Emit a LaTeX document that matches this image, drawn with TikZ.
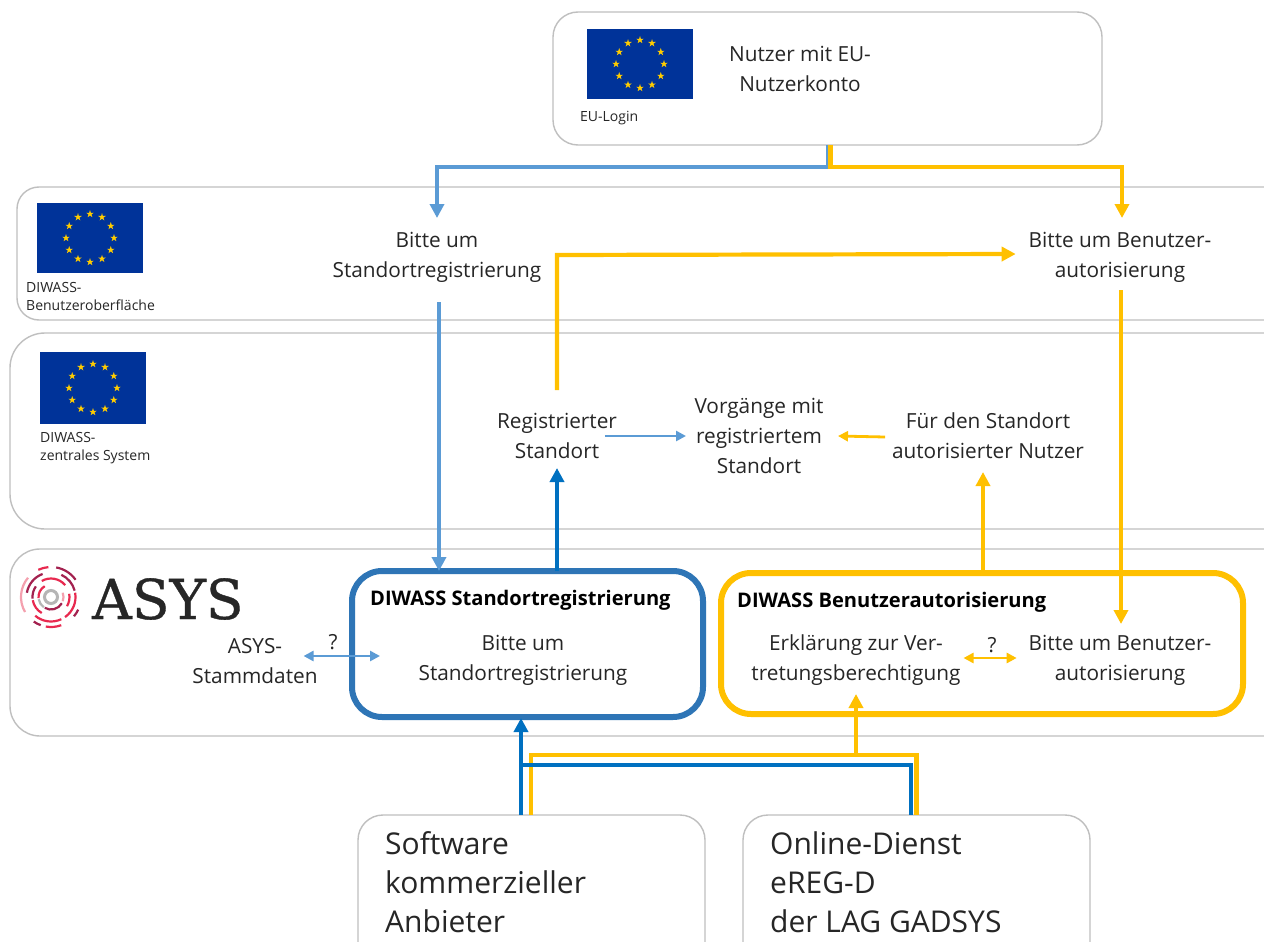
\documentclass[tikz,border=0pt]{standalone}
\usepackage{fontspec}
\setmainfont{Open Sans}
\newfontfamily\slabfont[FakeBold=0.7]{DejaVu Serif}
\usetikzlibrary{arrows.meta,calc}
\definecolor{lightblue}{HTML}{5B9BD5}
\definecolor{deepblue}{HTML}{0070C0}
\definecolor{boxblue}{HTML}{2E75B6}
\definecolor{gold}{HTML}{FFC000}
\definecolor{panelgrey}{HTML}{BFBFBF}
\definecolor{flagblue}{HTML}{003399}
\definecolor{stargold}{HTML}{FFCC00}
\definecolor{inktext}{HTML}{262626}
\definecolor{logored}{HTML}{E8294F}
\definecolor{logodark}{HTML}{A3214F}
\definecolor{logopink}{HTML}{F4A0AE}
\definecolor{logogrey}{HTML}{B5B5B5}
\tikzset{
  x=1pt,y=-1pt,
  panel/.style={draw=panelgrey,line width=1.4pt,fill=white,rounded corners=#1,inner sep=0pt,outer sep=0pt},
  panel/.default=25pt,
  mainbox/.style={draw=#1,line width=6pt,rounded corners=30pt,inner sep=0pt,outer sep=0pt},
  txt/.style={font=\fontsize{20.8}{30}\selectfont,text=inktext,align=center,inner sep=0pt,outer sep=0pt},
  boldtxt/.style={font=\fontsize{20.1}{24}\selectfont\bfseries,text=black,anchor=west,inner sep=0pt},
  small/.style={font=\fontsize{14}{18.5}\selectfont,text=inktext,align=left,anchor=north west,inner sep=0pt},
  big/.style={font=\fontsize{30}{39}\selectfont,text=inktext,align=left,anchor=north west,inner sep=0pt},
  lb/.style={draw=lightblue,line width=4pt},
  lbthin/.style={draw=lightblue,line width=2.6pt},
  gd/.style={draw=gold,line width=4.2pt},
  gdthin/.style={draw=gold,line width=2.8pt},
  db/.style={draw=deepblue,line width=4.2pt},
  tip/.style={-{Triangle[width=14pt,length=14pt]}},
  smalltip/.style={-{Triangle[width=10pt,length=10pt]}},
  bothtip/.style={{Triangle[width=10pt,length=10pt]}-{Triangle[width=10pt,length=10pt]}},
  flagarea/.style={fill=flagblue,draw=none},
  eustar/.style={fill=stargold,draw=none},
}
\newcommand{\euflag}[5]{% name, cx, cy, w, h
  \node[flagarea,minimum width=#4,minimum height=#5,inner sep=0pt] (#1) at (#2,#3) {};
  \foreach \a in {0,30,...,330}{
    \fill[eustar,shift={(#2,#3)},shift={(\a:24)}]
      (-90:4) -- (54:4) -- (198:4) -- (-18:4) -- (126:4) -- cycle;
  }
}
\newcommand{\ringarc}[4]{% colour, radius, start, end
  \draw[draw=#1,line width=2.2pt,shift={(51,597)}] (#3:#2) arc[start angle=#3,end angle=#4,radius=#2];
}
\begin{document}
\begin{tikzpicture}
\useasboundingbox (0,0) rectangle (1264,942);
\clip (0,0) rectangle (1264,942);
\fill[white] (0,0) rectangle (1264,942);

% panels
\node[panel,minimum width=549,minimum height=133] (login) at (827.5,78.5) {};
\node[panel=22pt,minimum width=1280,minimum height=133] (uipanel) at (657,253.5) {};
\node[panel=35pt,minimum width=1290,minimum height=196] (syspanel) at (655,431) {};
\node[panel=30pt,minimum width=1290,minimum height=187] (asyspanel) at (655,642.5) {};
\node[panel,minimum width=347,minimum height=155] (soft) at (531.5,892.5) {};
\node[panel,minimum width=347,minimum height=155] (ereg) at (916.5,892.5) {};

% flags
\euflag{flagA}{640}{64}{106}{70}
\euflag{flagB}{90}{238}{106}{70}
\euflag{flagC}{93}{388}{106}{72}

% logo
\draw[draw=logogrey,line width=3pt] (51,597) circle[radius=6.5];
\ringarc{logopink}{12.5}{-20}{20}
\ringarc{logodark}{12.5}{30}{120}
\ringarc{logogrey}{12.5}{125}{170}
\ringarc{logored}{12.5}{175}{240}
\ringarc{logored}{18.5}{-120}{-40}
\ringarc{logored}{18.5}{-10}{30}
\ringarc{logored}{18.5}{120}{170}
\ringarc{logodark}{18.5}{175}{215}
\ringarc{logodark}{24.5}{-65}{-15}
\ringarc{logored}{24.5}{-10}{55}
\ringarc{logored}{24.5}{65}{130}
\ringarc{logodark}{24.5}{190}{250}
\ringarc{logodark}{30}{-80}{-35}
\ringarc{logored}{30}{-115}{-95}
\ringarc{logopink}{30}{150}{220}
\ringarc{logodark}{30}{25}{40}
\ringarc{logored}{30}{70}{100}
\ringarc{logodark}{30}{110}{125}

% highlighted boxes
\node[mainbox=boxblue,minimum width=351,minimum height=146] (stdbox) at (527.5,644) {};
\node[mainbox=gold,minimum width=522,minimum height=141] (userbox) at (982,643.5) {};

% texts
\node[txt] (nutzer) at (800,69) {Nutzer mit EU-\\Nutzerkonto};
\node[small] (eulogin) at (580,111) {EU-Login};
\node[small] (uilabel) at (26,282) {DIWASS-\\Benutzeroberfläche};
\node[small] (syslabel) at (40,432) {DIWASS-\\zentrales System};
\node[font=\slabfont\fontsize{55}{60}\selectfont,text=inktext,anchor=west,inner sep=0pt] (asyslogo) at (92,599) {ASYS};

\node[txt,minimum height=78] (req1) at (437,257) {Bitte um\\Standortregistrierung};
\node[txt,minimum height=78] (req2) at (1120,257) {Bitte um Benutzer-\\autorisierung};
\node[txt,minimum height=92] (regsite) at (557,436) {Registrierter\\Standort};
\node[txt,minimum width=160] (vorg) at (759,436) {Vorgänge mit\\registriertem\\Standort};
\node[txt,minimum width=190,minimum height=72] (auth) at (988,436) {Für den Standort\\autorisierter Nutzer};
\node[txt] (stamm) at (255,661) {ASYS-\\Stammdaten};
\node[txt] (qa) at (333,642) {?};
\node[boldtxt] (stdtitle) at (370,600) {DIWASS Standortregistrierung};
\node[txt] (req3) at (523,660) {Bitte um\\Standortregistrierung};
\node[boldtxt] (usertitle) at (737,602) {DIWASS Benutzerautorisierung};
\node[txt] (erkl) at (856,660) {Erklärung zur Ver-\\tretungsberechtigung};
\node[txt] (qb) at (992,645) {?};
\node[txt,minimum height=72] (req4) at (1120,660) {Bitte um Benutzer-\\autorisierung};
\node[big] (softtxt) at (385,831) {Software\\kommerzieller\\Anbieter};
\node[big] (eregtxt) at (770,831) {Online-Dienst\\eREG-D\\der LAG GADSYS};

% connectors
\draw[lb,tip] (login.south) -- ++(0,22) -| (req1.north);
\draw[gd,tip] ([xshift=3pt]login.south) -- ++(0,22) -| ([xshift=2pt]req2.north);
\draw[lb,tip] ([xshift=2pt,yshift=-6pt]req1.south) -- ([xshift=2pt]req1.south |- stdbox.north);
\draw[gd,tip] (regsite.north) -- ++(0,-135) -- ([xshift=-13pt,yshift=3pt]req2.west);
\draw[gd,tip] ([xshift=1pt,yshift=6pt]req2.south) -- ([xshift=1pt]req4.north);
\draw[db,tip] (stdbox.north -| regsite) -- ([yshift=14pt]regsite.south);
\draw[lbthin,smalltip] ([xshift=-12pt]regsite.east) -- ([xshift=7pt]vorg.west);
\draw[gdthin,smalltip] ([xshift=-7pt,yshift=-1pt]auth.west) -- ([xshift=-1pt]vorg.east);
\draw[gd,tip] ([xshift=1pt]userbox.north) -- ([xshift=-5pt]auth.south);
\draw[lbthin,bothtip] ([xshift=-14pt,yshift=5pt]stamm.east) -- ([xshift=28pt,yshift=-12pt]stdbox.west);
\draw[gdthin,bothtip] ([xshift=3pt,yshift=2pt]erkl.east) -- ([xshift=-12pt,yshift=2pt]req4.west);
\draw[gd] ([xshift=-0.5pt]soft.north) |- ([yshift=60pt]ereg.north) -- (ereg.north);
\draw[db,tip] ([xshift=-10.5pt]soft.north) -- ([xshift=-6.5pt,yshift=-1pt]stdbox.south);
\draw[db] ([xshift=-10.5pt,yshift=50pt]soft.north) -| ([xshift=-5.5pt]ereg.north);
\draw[gd,tip] ([xshift=-60.5pt,yshift=60pt]ereg.north) -- ([xshift=-126pt,yshift=20pt]userbox.south);
\end{tikzpicture}
\end{document}
